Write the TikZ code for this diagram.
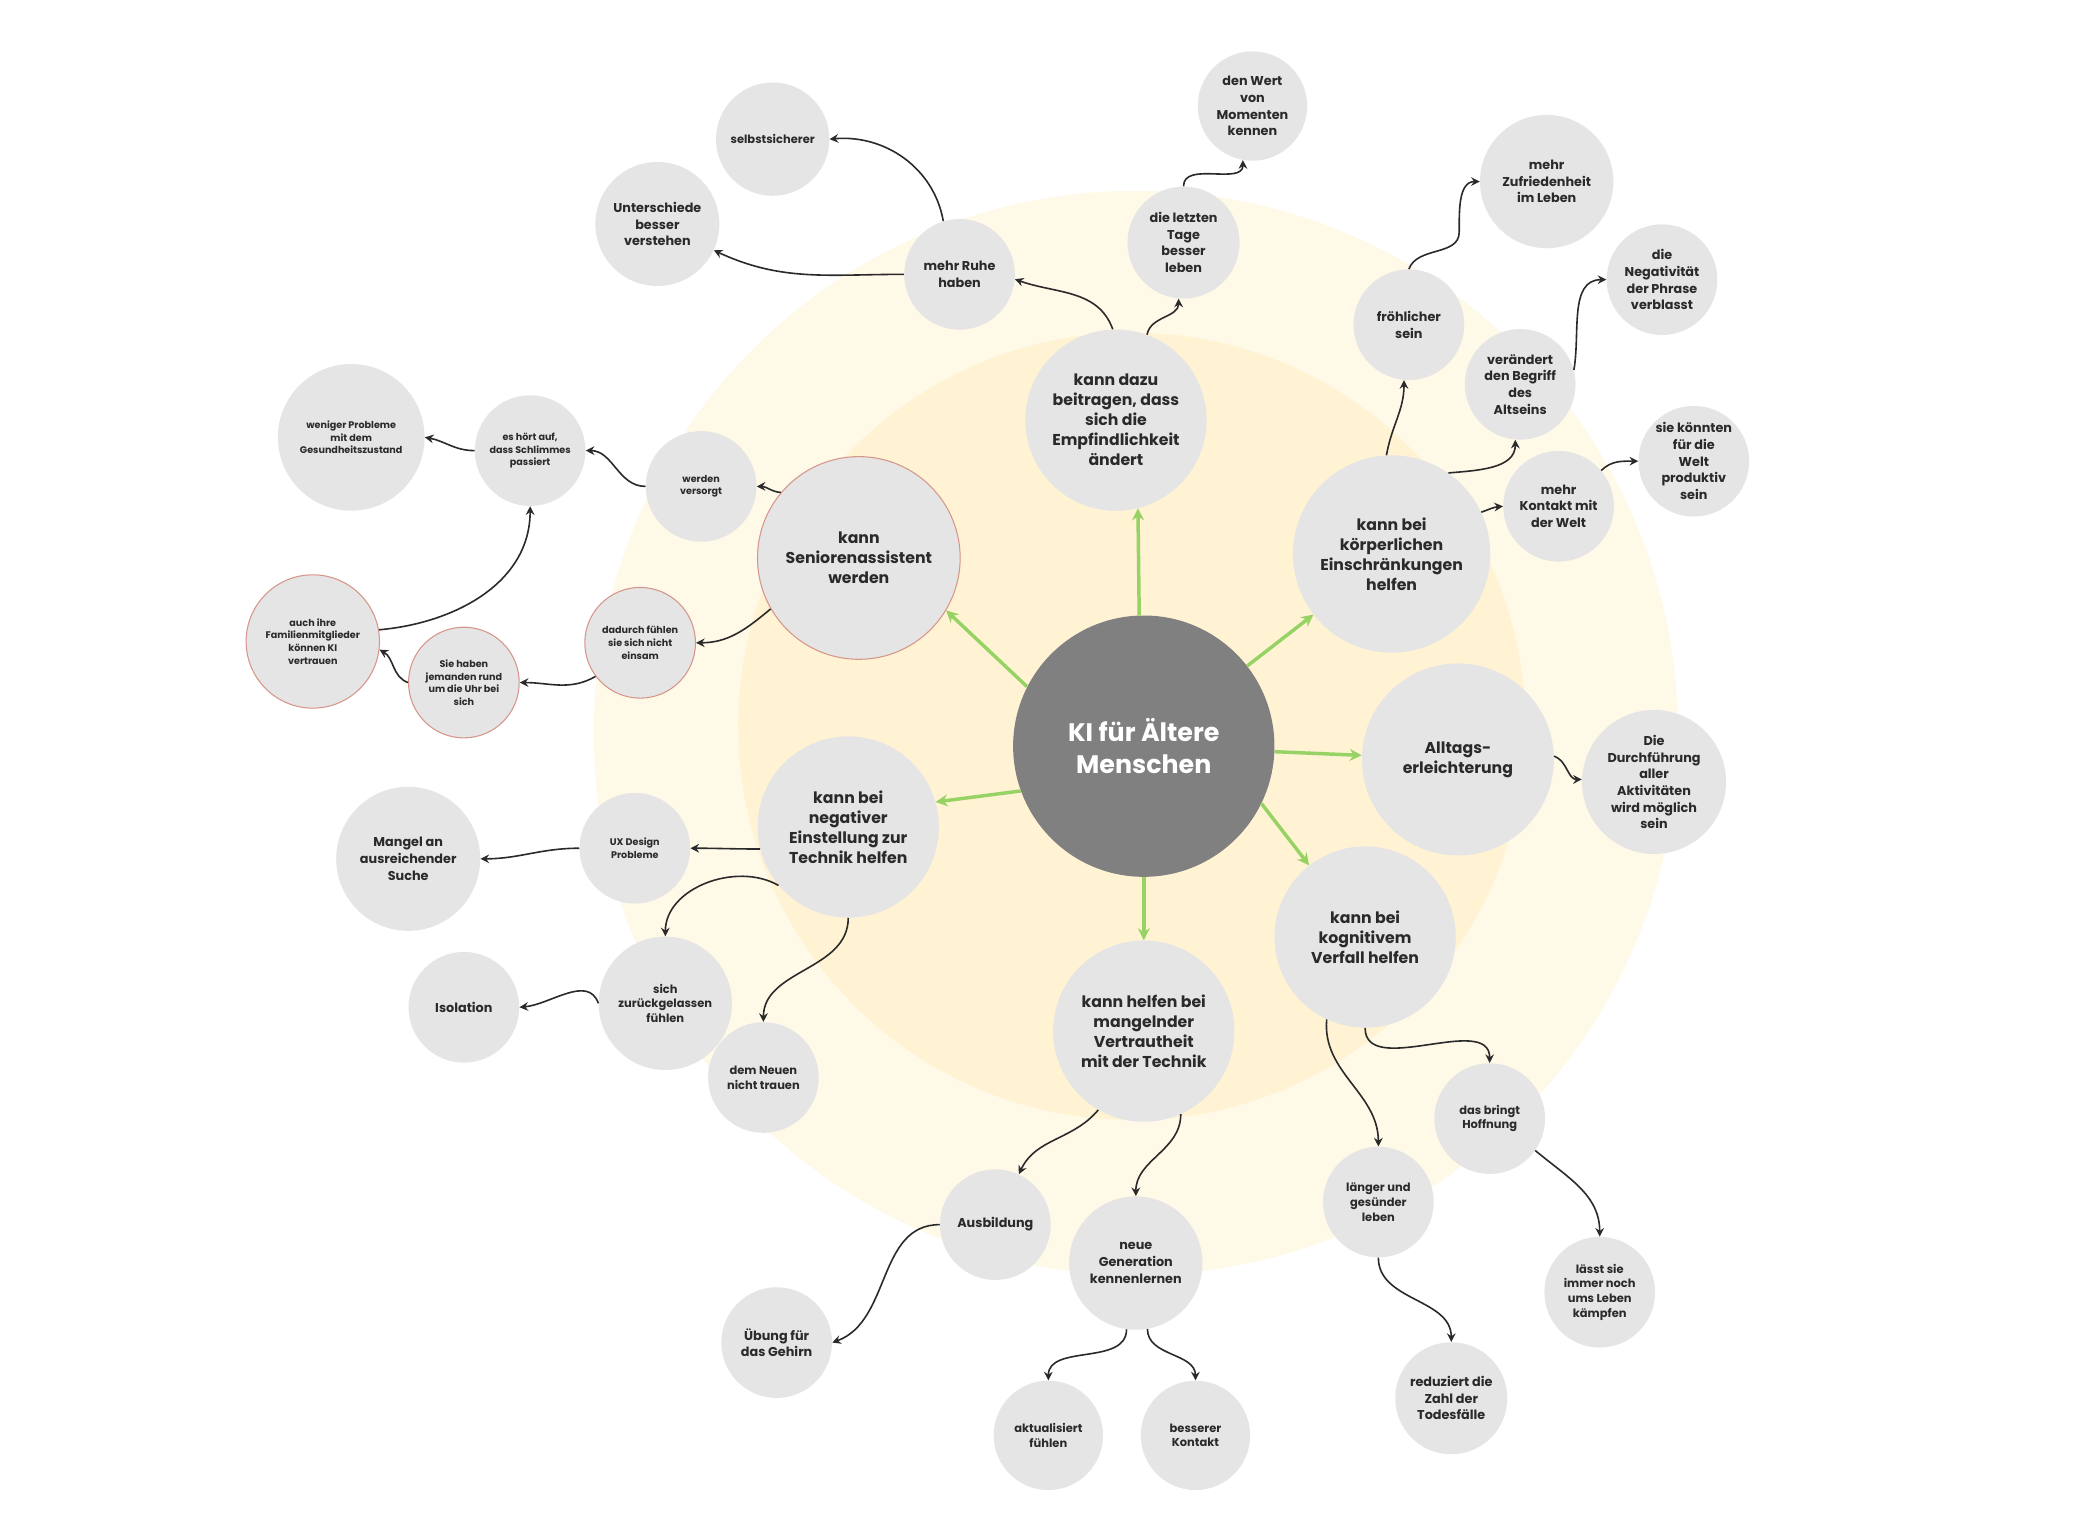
\documentclass[tikz,border=0pt]{standalone}
\usepackage{fontspec}
\setmainfont{Poppins}
\usetikzlibrary{arrows.meta}
\definecolor{ngray}{RGB}{229,229,229}
\definecolor{mgray}{RGB}{128,128,128}
\definecolor{txt}{RGB}{42,42,42}
\definecolor{lgreen}{RGB}{150,210,100}
\definecolor{ringA}{RGB}{255,249,232}
\definecolor{ringB}{RGB}{255,243,212}
\definecolor{salmon}{RGB}{215,150,140}
\begin{document}
\begin{tikzpicture}[x=0.994pt,y=0.994pt,
  bub/.style={circle, fill=ngray, inner sep=0pt, align=center, text=txt},
  mainb/.style={circle, fill=mgray, inner sep=0pt, align=center, text=white, minimum size=196pt, font=\bfseries\fontsize{19}{24}\selectfont},
  fB/.style={font=\bfseries\fontsize{11.8}{15}\selectfont},
  fC/.style={font=\bfseries\fontsize{9.6}{12.5}\selectfont},
  fD/.style={font=\bfseries\fontsize{8.6}{11}\selectfont},
  fE/.style={font=\bfseries\fontsize{7.2}{9.5}\selectfont},
  rimmed/.style={draw=salmon, line width=0.8pt},
  conn/.style={draw=txt, line width=1.2pt, -{Stealth[length=6.5pt,width=6.5pt,inset=2.2pt]}},
  garr/.style={draw=lgreen, line width=2.6pt, -{Stealth[length=9pt,width=9pt,inset=3pt]}}
]
\fill[white] (0,0) rectangle (1569.4,-1152.9);
\useasboundingbox (0,0) rectangle (1569.4,-1152.9);
\fill[ringA] (857,-553) circle (409);
\fill[ringB] (854,-548) circle (297);

% main and first level
\node[mainb] (main) at (863,-563) {KI für Ältere\\Menschen};
\node[bub,fB,minimum size=136pt] (n1) at (842,-317) {kann dazu\\beitragen, dass\\sich die\\Empfindlichkeit\\ändert};
\node[bub,fB,minimum size=148pt] (n2) at (1050,-418) {kann bei\\körperlichen\\Einschränkungen\\helfen};
\node[bub,fB,minimum size=144pt] (n3) at (1100,-573) {Alltags-\\erleichterung};
\node[bub,fB,minimum size=136pt] (n4) at (1030,-707) {kann bei\\kognitivem\\Verfall helfen};
\node[bub,fB,minimum size=136pt] (n5) at (863,-778) {kann helfen bei\\mangelnder\\Vertrautheit\\mit der Technik};
\node[bub,fB,minimum size=136pt] (n6) at (640,-624) {kann bei\\negativer\\Einstellung zur\\Technik helfen};
\node[bub,rimmed,fB,minimum size=152pt] (n7) at (648,-421) {kann\\Seniorenassistent\\werden};

% second level and beyond
\node[bub,fC,minimum size=83pt] (ruhe) at (724,-207) {mehr Ruhe\\haben};
\node[bub,fC,minimum size=84pt] (letz) at (893,-183) {die letzten\\Tage\\besser\\leben};
\node[bub,fC,minimum size=82pt] (wert) at (945,-80) {den Wert\\von\\Momenten\\kennen};
\node[bub,fD,minimum size=85pt] (selbst) at (583,-105) {selbstsicherer};
\node[bub,fC,minimum size=93pt] (unters) at (496,-169) {Unterschiede\\besser\\verstehen};
\node[bub,fC,minimum size=83pt] (froh) at (1063,-245) {fröhlicher\\sein};
\node[bub,fC,minimum size=100pt] (zufr) at (1167,-137) {mehr\\Zufriedenheit\\im Leben};
\node[bub,fC,minimum size=83pt] (verand) at (1147,-290) {verändert\\den Begriff\\des\\Altseins};
\node[bub,fC,minimum size=83pt] (negat) at (1254,-211) {die\\Negativität\\der Phrase\\verblasst};
\node[bub,fC,minimum size=83pt] (kont) at (1176,-382) {mehr\\Kontakt mit\\der Welt};
\node[bub,fC,minimum size=83pt] (prod) at (1278,-348) {sie könnten\\für die\\Welt\\produktiv\\sein};
\node[bub,fC,minimum size=108pt] (durch) at (1248,-590) {Die\\Durchführung\\aller\\Aktivitäten\\wird möglich\\sein};
\node[bub,fD,minimum size=83pt] (hoff) at (1124,-844) {das bringt\\Hoffnung};
\node[bub,fD,minimum size=83pt] (kampf) at (1207,-975) {lässt sie\\immer noch\\ums Leben\\kämpfen};
\node[bub,fD,minimum size=83pt] (lang) at (1040,-907) {länger und\\gesünder\\leben};
\node[bub,fC,minimum size=84pt] (redu) at (1095,-1055) {reduziert die\\Zahl der\\Todesfälle};
\node[bub,fC,minimum size=83pt] (ausb) at (751,-924) {Ausbildung};
\node[bub,fC,minimum size=83pt] (ueb) at (586,-1013) {Übung für\\das Gehirn};
\node[bub,fC,minimum size=100pt] (gen) at (857,-953) {neue\\Generation\\kennenlernen};
\node[bub,fD,minimum size=82pt] (akt) at (791,-1083) {aktualisiert\\fühlen};
\node[bub,fD,minimum size=82pt] (bess) at (902,-1083) {besserer\\Kontakt};
\node[bub,fE,minimum size=83pt] (ux) at (479,-640) {UX Design\\Probleme};
\node[bub,fC,minimum size=108pt] (mang) at (308,-648) {Mangel an\\ausreichender\\Suche};
\node[bub,fD,minimum size=100pt] (zur) at (502,-757) {sich\\zurückgelassen\\fühlen};
\node[bub,fC,minimum size=83pt] (iso) at (350,-760) {Isolation};
\node[bub,fD,minimum size=83pt] (neu) at (576,-813) {dem Neuen\\nicht trauen};
\node[bub,fE,minimum size=83pt] (vers) at (529,-367) {werden\\versorgt};
\node[bub,fE,minimum size=83pt] (hort) at (400,-340) {es hört auf,\\dass Schlimmes\\passiert};
\node[bub,fE,minimum size=110pt] (wen) at (265,-330) {weniger Probleme\\mit dem\\Gesundheitszustand};
\node[bub,rimmed,fE,minimum size=83pt] (dad) at (483,-485) {dadurch fühlen\\sie sich nicht\\einsam};
\node[bub,rimmed,fE,minimum size=83pt] (sie) at (350,-515) {Sie haben\\jemanden rund\\um die Uhr bei\\sich};
\node[bub,rimmed,fE,minimum size=100pt] (auch) at (236,-484) {auch ihre\\Familienmitglieder\\können KI\\vertrauen};

% way points of wavy connectors
\coordinate (fz) at (1101,-175);

% green arrows
\draw[garr] (main.92) -- (n1.-76);
\draw[garr] (main) -- (n2);
\draw[garr] (main) -- (n3);
\draw[garr] (main.-26) -- (n4.128);
\draw[garr] (main.south) -- (n5.north);
\draw[garr] (main.200) -- (n6.16);
\draw[garr] (main.153) -- (n7.-31);

% connectors
\draw[conn] (n1.92) to[out=110,in=-20] (ruhe.-5);
\draw[conn] (n1.70) to[out=80,in=-90] (letz.-95);
\draw[conn] (letz.north) to[out=90,in=-90] (wert.-100);
\draw[conn] (ruhe.107) to[out=100,in=5] (selbst.east);
\draw[conn] (ruhe.west) to[out=180,in=-25] (unters.-25);
\draw[conn] (n2.93) to[out=80,in=-90] (froh.-95);
\draw[conn] (froh.north) to[out=70,in=-90] (fz) to[out=90,in=180] (zufr.west);
\draw[conn] (n2.55) to[out=5,in=-90] (verand.-95);
\draw[conn] (verand.15) to[out=80,in=180] (negat.west);
\draw[conn] (n2.25) to[out=20,in=185] (kont.west);
\draw[conn] (kont.40) to[out=45,in=180] (prod.west);
\draw[conn] (n3.2) to[out=-20,in=180] (durch.178);
\draw[conn] (n4.-90) to[out=-90,in=90] (hoff.north);
\draw[conn] (hoff.-35) to[out=-40,in=90] (kampf.north);
\draw[conn] (n4.-115) to[out=-95,in=90] (lang.north);
\draw[conn] (lang.south) to[out=-90,in=90] (redu.north);
\draw[conn] (n5.-120) to[out=-130,in=65] (ausb.65);
\draw[conn] (ausb.west) to[out=180,in=20] (ueb.east);
\draw[conn] (n5.-66) to[out=-90,in=90] (gen.north);
\draw[conn] (gen.-98) to[out=-90,in=90] (akt.north);
\draw[conn] (gen.-80) to[out=-90,in=90] (bess.north);
\draw[conn] (n6.194) to[out=180,in=0] (ux.east);
\draw[conn] (ux.west) to[out=180,in=0] (mang.east);
\draw[conn] (n6.-140) to[out=150,in=90] (zur.north);
\draw[conn] (zur.west) to[out=110,in=5] (iso.east);
\draw[conn] (n6.south) to[out=-90,in=90] (neu.north);
\draw[conn] (n7.140) to[out=175,in=0] (vers.east);
\draw[conn] (vers.west) to[out=180,in=0] (hort.east);
\draw[conn] (hort.west) to[out=180,in=-10] (wen.east);
\draw[conn] (n7.210) to[out=-140,in=0] (dad.east);
\draw[conn] (dad.217) to[out=-150,in=0] (sie.east);
\draw[conn] (sie.west) to[out=160,in=-30] (auch.-7);
\draw[conn] (auch.10) to[out=5,in=-90] (hort.south);
\end{tikzpicture}
\end{document}
